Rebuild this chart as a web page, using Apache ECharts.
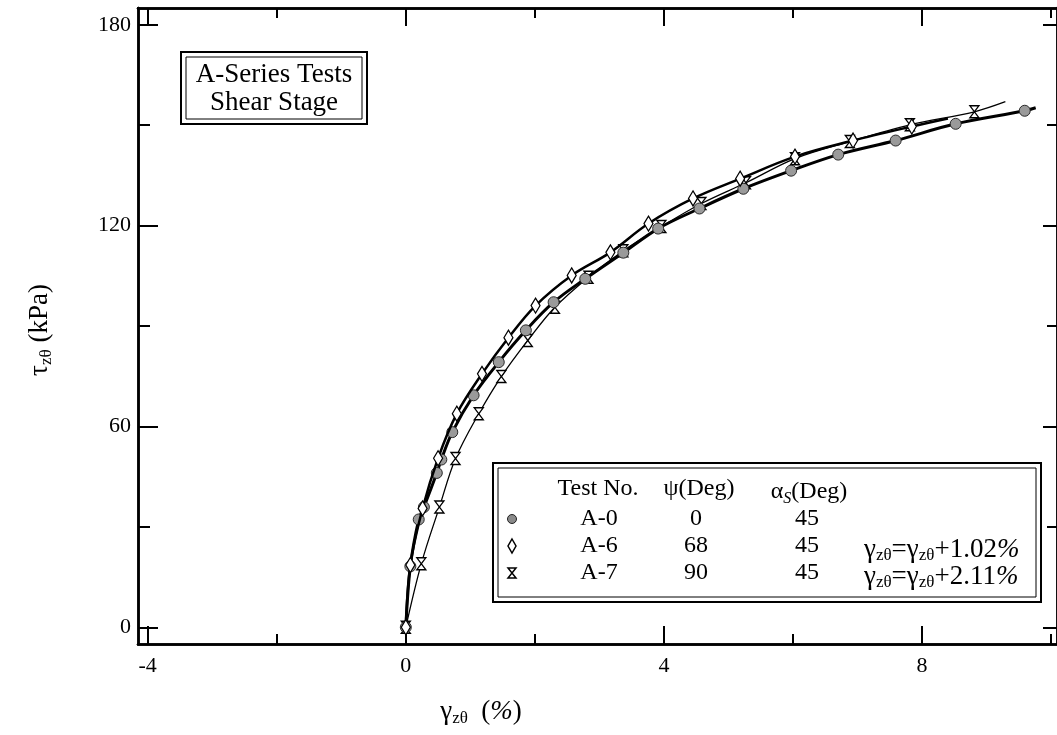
<!DOCTYPE html>
<html>
<head>
<meta charset="utf-8">
<script src="https://cdn.jsdelivr.net/npm/echarts@6/dist/echarts.min.js"></script>
<style>
  html, body { margin: 0; padding: 0; background: #fff; }
  #chart { width: 1057px; height: 735px; }
</style>
</head>
<body>
<div id="chart"></div>
<script>
// Shear strain (%) and shear stress (kPa) for each test
const gammaA0 = [0, 0.07, 0.20, 0.28, 0.48, 0.55, 0.72, 1.05, 1.44, 1.86, 2.29, 2.78, 3.37, 3.91, 4.55, 5.23, 5.97, 6.70, 7.59, 8.52, 9.59];
const tauA0   = [0, 18.2, 32.2, 35.9, 46.1, 50.1, 58.3, 69.3, 79.2, 88.7, 97.1, 104.1, 111.9, 119.1, 125.1, 131.0, 136.4, 141.2, 145.4, 150.4, 154.3];
const tailA0  = [9.76, 155.2];

const gammaA6 = [0, 0.07, 0.26, 0.50, 0.79, 1.18, 1.59, 2.01, 2.57, 3.17, 3.76, 4.45, 5.18, 6.03, 6.93, 7.84];
const tauA6   = [0, 18.6, 35.5, 50.5, 63.8, 75.7, 86.5, 96.1, 105.1, 112.0, 120.6, 128.1, 134.0, 140.6, 145.4, 149.6];
const tailA6  = [8.40, 152.0];

const gammaA7 = [0, 0.24, 0.52, 0.77, 1.13, 1.48, 1.89, 2.31, 2.83, 3.37, 3.96, 4.58, 5.27, 6.03, 6.88, 7.81, 8.81];
const tauA7   = [0, 19.0, 35.9, 50.4, 63.8, 74.9, 85.7, 95.6, 104.6, 112.5, 119.7, 126.6, 132.8, 140.0, 145.1, 150.1, 154.0];
const tailA7  = [9.29, 157.0];

// Axis ticks
const xMajorTicks = [-4, 0, 4, 8];
const xMinorTicks = [-2, 2, 6, 10];
const yMajorTicks = [0, 60, 120, 180];
const yMinorTicks = [30, 90, 150];

// Legend table rows
const testNames = ['A-0', 'A-6', 'A-7'];
const psiDeg = ['0', '68', '90'];
const alphaDeg = ['45', '45', '45'];
const shiftPct = ['', '1.02', '2.11'];

const SERIF = '"Liberation Serif", "DejaVu Serif", serif';
const X_MIN = -4.15, X_MAX = 10.09, Y_MIN = -5, Y_MAX = 185;
const HOURGLASS = 'path://M0,0 L10,0 L0,14 L10,14 Z';

function pairs(xs, ys, tail) {
  const out = xs.map((x, i) => [x, ys[i]]);
  if (tail) out.push({ value: tail, symbol: 'none' });
  return out;
}

function xAxisDef(position, ticks, len, labels) {
  return {
    type: 'value', position: position, min: X_MIN, max: X_MAX,
    axisLine: { show: true, onZero: false, lineStyle: { color: '#000', width: 2.5 } },
    axisTick: { show: true, inside: true, length: len, customValues: ticks, lineStyle: { color: '#000', width: 2 } },
    axisLabel: labels ? { show: true, customValues: ticks, margin: 11, color: '#000', fontSize: 22, fontFamily: SERIF } : { show: false },
    splitLine: { show: false }
  };
}
function yAxisDef(position, ticks, len, labels) {
  return {
    type: 'value', position: position, min: Y_MIN, max: Y_MAX,
    axisLine: { show: true, onZero: false, lineStyle: { color: '#000', width: 2.5 } },
    axisTick: { show: true, inside: true, length: len, customValues: ticks, lineStyle: { color: '#000', width: 2 } },
    axisLabel: labels ? { show: true, customValues: ticks, margin: 7, color: '#000', fontSize: 22, fontFamily: SERIF } : { show: false },
    splitLine: { show: false }
  };
}

const chart = echarts.init(document.getElementById('chart'), null, { renderer: 'canvas' });

const txt = { fill: '#000', fontFamily: SERIF };
const graphics = [];

// Title box (double frame)
graphics.push(
  { type: 'rect', shape: { x: 181, y: 52, width: 186, height: 72 }, style: { fill: '#fff', stroke: '#000', lineWidth: 2 }, z: 50 },
  { type: 'rect', shape: { x: 186, y: 57, width: 176, height: 62 }, style: { fill: 'none', stroke: '#000', lineWidth: 1 }, z: 51 },
  { type: 'text', x: 274, y: 75, style: Object.assign({ text: 'A-Series Tests', fontSize: 27, align: 'center', verticalAlign: 'middle' }, txt), z: 52 },
  { type: 'text', x: 274, y: 103, style: Object.assign({ text: 'Shear Stage', fontSize: 27, align: 'center', verticalAlign: 'middle' }, txt), z: 52 }
);

// Legend table (double frame)
graphics.push(
  { type: 'rect', shape: { x: 493, y: 463, width: 548, height: 139 }, style: { fill: '#fff', stroke: '#000', lineWidth: 2 }, z: 50 },
  { type: 'rect', shape: { x: 498, y: 468, width: 538, height: 129 }, style: { fill: 'none', stroke: '#000', lineWidth: 1 }, z: 51 }
);
const headY = 489;
const rowY = [519, 546, 573];
const LEG_FS = 24;
const richBase = {
  m: { fontSize: LEG_FS, fontFamily: SERIF, color: '#000' },
  si: { fontSize: 16, fontFamily: SERIF, fontStyle: 'italic', color: '#000', padding: [14, 0, 0, 0] }
};
const richBig = {
  m: { fontSize: 27, fontFamily: SERIF, color: '#000' },
  s: { fontSize: 17, fontFamily: SERIF, color: '#000', padding: [14, 0, 0, 0] },
  i: { fontSize: 27, fontFamily: SERIF, fontStyle: 'italic', color: '#000' }
};
graphics.push(
  { type: 'text', x: 598, y: headY, style: Object.assign({ text: 'Test No.', fontSize: LEG_FS, align: 'center', verticalAlign: 'middle' }, txt), z: 52 },
  { type: 'text', x: 699, y: headY, style: Object.assign({ text: 'ψ(Deg)', fontSize: LEG_FS, align: 'center', verticalAlign: 'middle' }, txt), z: 52 },
  { type: 'text', x: 809, y: headY + 3, style: { text: '{m|α}{si|S}{m|(Deg)}', rich: richBase, align: 'center', verticalAlign: 'middle' }, z: 52 }
);
testNames.forEach((name, i) => {
  graphics.push(
    { type: 'text', x: 599, y: rowY[i], style: Object.assign({ text: name, fontSize: LEG_FS, align: 'center', verticalAlign: 'middle' }, txt), z: 52 },
    { type: 'text', x: 696, y: rowY[i], style: Object.assign({ text: psiDeg[i], fontSize: LEG_FS, align: 'center', verticalAlign: 'middle' }, txt), z: 52 },
    { type: 'text', x: 807, y: rowY[i], style: Object.assign({ text: alphaDeg[i], fontSize: LEG_FS, align: 'center', verticalAlign: 'middle' }, txt), z: 52 }
  );
  if (shiftPct[i]) {
    graphics.push({
      type: 'text', x: 864, y: rowY[i] + 4,
      style: {
        text: '{m|γ}{s|zθ}{m|=γ}{s|zθ}{m|+' + shiftPct[i] + '}{i|%}',
        rich: {
          m: { fontSize: 27, fontFamily: SERIF, color: '#000' },
          s: { fontSize: 17, fontFamily: SERIF, color: '#000', padding: [12, 0, 0, 0] },
          i: { fontSize: 27, fontFamily: SERIF, fontStyle: 'italic', color: '#000' }
        },
        align: 'left', verticalAlign: 'middle'
      }, z: 52
    });
  }
});
// Legend symbols
graphics.push(
  { type: 'circle', shape: { cx: 512, cy: rowY[0], r: 4.5 }, style: { fill: '#8a8a8a', stroke: '#222', lineWidth: 1 }, z: 52 },
  { type: 'polygon', shape: { points: [[512, rowY[1] - 7], [516, rowY[1]], [512, rowY[1] + 7], [508, rowY[1]]] }, style: { fill: '#fff', stroke: '#000', lineWidth: 1.5 }, z: 52 },
  { type: 'polygon', shape: { points: [[508, rowY[2] - 5], [516, rowY[2] - 5], [508, rowY[2] + 5], [516, rowY[2] + 5]] }, style: { fill: '#fff', stroke: '#000', lineWidth: 1.5 }, z: 52 }
);

// Axis titles
graphics.push(
  { type: 'text', x: 481, y: 712, style: { text: '{m|γ}{s|zθ}{m|  (}{i|%}{m|)}', rich: richBig, align: 'center', verticalAlign: 'middle' }, z: 52 },
  { type: 'text', x: 40, y: 330, rotation: Math.PI / 2, style: { text: '{m|τ}{s|zθ}{m| (kPa)}', rich: richBig, align: 'center', verticalAlign: 'middle' }, z: 52 }
);

const option = {
  animation: false,
  backgroundColor: '#fff',
  grid: { left: 138, right: -2, top: 8, bottom: 91, containLabel: false },
  xAxis: [
    xAxisDef('bottom', xMajorTicks, 18, true),
    xAxisDef('bottom', xMinorTicks, 10, false),
    xAxisDef('top', xMajorTicks, 18, false),
    xAxisDef('top', xMinorTicks, 10, false)
  ],
  yAxis: [
    yAxisDef('left', yMajorTicks, 20, true),
    yAxisDef('left', yMinorTicks, 12, false),
    yAxisDef('right', yMajorTicks, 14, false),
    yAxisDef('right', yMinorTicks, 10, false)
  ],
  series: [
    {
      name: 'A-7', type: 'line', data: pairs(gammaA7, tauA7, tailA7), smooth: 0.35,
      lineStyle: { color: '#000', width: 1.3 },
      symbol: HOURGLASS, symbolSize: [9, 12], showAllSymbol: true,
      itemStyle: { color: '#fff', borderColor: '#000', borderWidth: 1.3 }, z: 3
    },
    {
      name: 'A-0', type: 'line', data: pairs(gammaA0, tauA0, tailA0), smooth: 0.35,
      lineStyle: { color: '#000', width: 3 },
      symbol: 'circle', symbolSize: 11, showAllSymbol: true,
      itemStyle: { color: '#9a9a9a', borderColor: '#2a2a2a', borderWidth: 1 }, z: 4
    },
    {
      name: 'A-6', type: 'line', data: pairs(gammaA6, tauA6, tailA6), smooth: 0.35,
      lineStyle: { color: '#000', width: 2.5 },
      symbol: 'diamond', symbolSize: [9, 15], showAllSymbol: true,
      itemStyle: { color: '#fff', borderColor: '#000', borderWidth: 1.3 }, z: 5
    }
  ],
  graphic: { elements: graphics }
};
chart.setOption(option);
</script>
</body>
</html>
